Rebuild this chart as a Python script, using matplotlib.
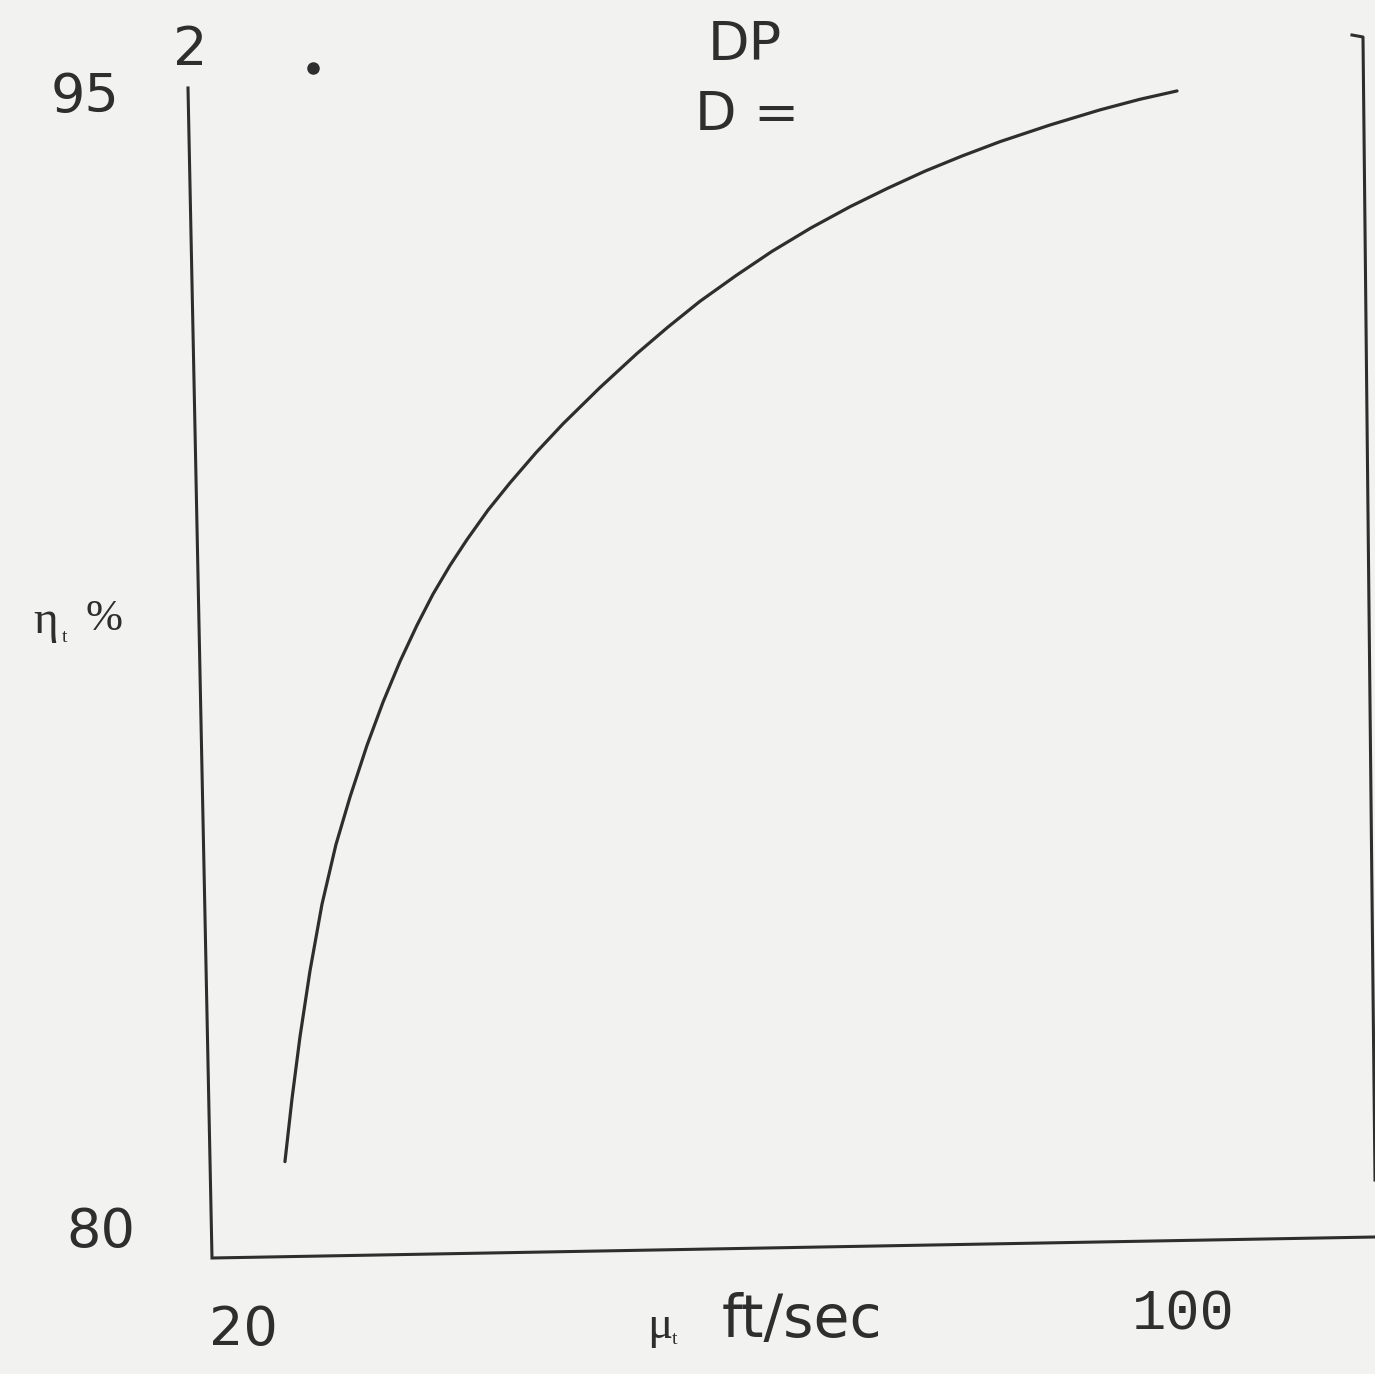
import matplotlib.pyplot as plt
import numpy as np

# curve: tip speed (ft/sec) vs efficiency (%)
speed = [23.57, 24.17, 24.85, 25.70, 26.72, 27.91, 29.11, 30.55, 31.91, 33.36, 34.81, 36.17,
         37.62, 39.06, 40.85, 42.72, 44.94, 47.23, 50.38, 53.53, 56.17, 58.89, 61.96, 65.02,
         68.34, 71.66, 74.81, 78.04, 81.19, 84.43, 88.68, 92.94, 96.34, 99.49]
eff = [80.93, 81.76, 82.58, 83.45, 84.33, 85.12, 85.75, 86.43, 87.00, 87.54, 88.02, 88.43,
       88.81, 89.15, 89.54, 89.90, 90.30, 90.68, 91.16, 91.61, 91.96, 92.30, 92.64, 92.96,
       93.27, 93.55, 93.79, 94.02, 94.22, 94.41, 94.63, 94.83, 94.97, 95.08]

x_ticks = [20, 100]
x_tick_labels = ['20', '100']
y_ticks = [95, 80]
y_tick_labels = ['95', '80']

W, H = 1375, 1374
ink = '#2e2e2e'
paper = '#f2f2f1'


def fx(px):
    return px / W


def fy(py):
    return 1 - py / H


fig = plt.figure(figsize=(13.75, 13.74), dpi=100, facecolor=paper)
ax = fig.add_axes([0, 0, 1, 1])
ax.set_facecolor(paper)

# pixel -> data mapping taken from the tick labels (20 at 243px, 100 at 1183px; 95 at 97px, 80 at 1232px)
sx = (1183 - 243) / 80
sy = (1232 - 97) / 15
ax.set_xlim(20 - 243 / sx, 20 + (W - 243) / sx)
ax.set_ylim(80 - (H - 1232) / sy, 80 + 1232 / sy)
ax.axis('off')

# hand drawn frame (slightly tilted)
ax.plot([fx(188), fx(212), fx(1375)], [fy(88), fy(1258), fy(1237)],
        color=ink, lw=2.2, transform=ax.transAxes, solid_joinstyle='miter')
ax.plot([fx(1352), fx(1363), fx(1375)], [fy(35), fy(37), fy(1180)],
        color=ink, lw=2.2, transform=ax.transAxes)

ax.plot(speed, eff, color=ink, lw=2.3, solid_capstyle='round', solid_joinstyle='round')

# tick labels
ax.text(x_ticks[0], 80 - 98 / sy, x_tick_labels[0], ha='center', va='center',
        fontsize=39, color=ink, family='DejaVu Sans')
ax.text(x_ticks[1], 80 - 83 / sy, x_tick_labels[1], ha='center', va='center',
        fontsize=41, color=ink, family='Liberation Mono')
ax.text(20 - 158 / sx, y_ticks[0], y_tick_labels[0], ha='center', va='center',
        fontsize=39, color=ink, family='DejaVu Sans')
ax.text(20 - 142 / sx, y_ticks[1], y_tick_labels[1], ha='center', va='center',
        fontsize=39, color=ink, family='DejaVu Sans')

# y label: eta_t %
ax.text(fx(46), fy(622), 'η', transform=ax.transAxes, ha='center', va='center',
        fontsize=34, color=ink, family='Liberation Serif')
ax.text(fx(65), fy(637), 't', transform=ax.transAxes, ha='center', va='center',
        fontsize=14, color=ink, family='Liberation Serif')
ax.text(fx(104), fy(619), '%', transform=ax.transAxes, ha='center', va='center',
        fontsize=32, color=ink, family='Liberation Serif')

# x label: mu_t ft/sec
ax.text(fx(660), fy(1327), 'μ', transform=ax.transAxes, ha='center', va='center',
        fontsize=34, color=ink, family='Liberation Serif')
ax.text(fx(675), fy(1339), 't', transform=ax.transAxes, ha='center', va='center',
        fontsize=14, color=ink, family='Liberation Serif')
ax.text(fx(802), fy(1320), 'ft/sec', transform=ax.transAxes, ha='center', va='center',
        fontsize=42, color=ink, family='DejaVu Sans')

# other annotations
ax.text(fx(190), fy(50), '2', transform=ax.transAxes, ha='center', va='center',
        fontsize=39, color=ink, family='DejaVu Sans')
ax.text(fx(745), fy(45), 'DP', transform=ax.transAxes, ha='center', va='center',
        fontsize=39, color=ink, family='DejaVu Sans')
ax.text(fx(747), fy(115), 'D =', transform=ax.transAxes, ha='center', va='center',
        fontsize=39, color=ink, family='DejaVu Sans')
ax.plot([fx(313)], [fy(68)], 'o', color=ink, ms=8, transform=ax.transAxes)

plt.savefig('out.png', dpi=100, facecolor=paper)
